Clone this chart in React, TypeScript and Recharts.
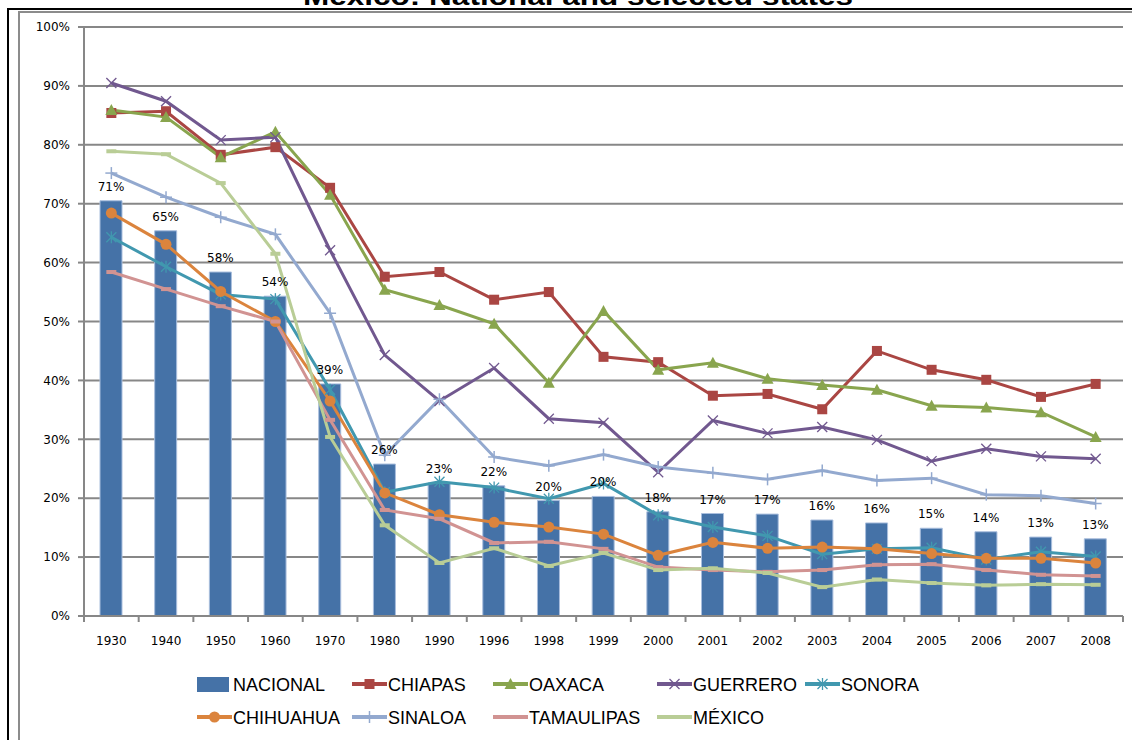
import React from 'react';
import { ComposedChart, Bar, Line, XAxis, YAxis, CartesianGrid, LabelList } from 'recharts';

const years = ['1930', '1940', '1950', '1960', '1970', '1980', '1990', '1996', '1998', '1999', '2000', '2001', '2002', '2003', '2004', '2005', '2006', '2007', '2008'];
const nacional = [70.5, 65.4, 58.4, 54.3, 39.4, 25.8, 22.6, 22.1, 19.6, 20.3, 17.7, 17.4, 17.3, 16.3, 15.8, 14.9, 14.3, 13.4, 13.1];
const chiapas = [85.4, 85.7, 78.3, 79.6, 72.7, 57.6, 58.4, 53.7, 55.0, 44.0, 43.1, 37.4, 37.7, 35.1, 45.0, 41.8, 40.1, 37.2, 39.4];
const oaxaca = [85.9, 84.7, 77.9, 82.2, 71.5, 55.4, 52.8, 49.6, 39.6, 51.8, 41.8, 43.0, 40.3, 39.2, 38.4, 35.7, 35.4, 34.6, 30.4];
const guerrero = [90.5, 87.4, 80.8, 81.3, 62.1, 44.3, 36.5, 42.1, 33.5, 32.8, 24.4, 33.2, 31.0, 32.1, 29.9, 26.3, 28.4, 27.1, 26.7];
const sonora = [64.3, 59.3, 54.6, 53.8, 38.4, 21.0, 22.8, 21.8, 19.9, 22.5, 17.1, 15.1, 13.6, 10.5, 11.4, 11.6, 9.6, 10.9, 10.1];
const chihuahua = [68.4, 63.1, 55.1, 50.0, 36.5, 20.9, 17.2, 15.9, 15.1, 13.9, 10.3, 12.5, 11.5, 11.7, 11.4, 10.6, 9.8, 9.8, 9.0];
const sinaloa = [75.2, 71.1, 67.7, 64.8, 51.4, 27.3, 36.8, 27.0, 25.5, 27.4, 25.3, 24.3, 23.2, 24.7, 23.0, 23.4, 20.6, 20.4, 19.1];
const tamaulipas = [58.4, 55.5, 52.6, 50.0, 33.3, 18.0, 16.5, 12.4, 12.6, 11.4, 8.3, 7.8, 7.5, 7.8, 8.7, 8.8, 7.8, 7.0, 6.8];
const mexico = [78.9, 78.4, 73.5, 61.5, 30.4, 15.4, 9.0, 11.5, 8.5, 10.7, 7.8, 8.1, 7.3, 4.9, 6.2, 5.6, 5.2, 5.4, 5.3];

const yTicks = [0, 10, 20, 30, 40, 50, 60, 70, 80, 90, 100];
const title = 'Mexico: National and selected states';

const BAR_COLOR = '#4572A7';
const GRID = '#878787';

type Kind = 'square' | 'triangle' | 'x' | 'asterisk' | 'circle' | 'plus' | 'dash';

const seriesDefs: { key: string; values: number[]; color: string; kind: Kind }[] = [
  { key: 'CHIAPAS', values: chiapas, color: '#AA4643', kind: 'square' },
  { key: 'OAXACA', values: oaxaca, color: '#89A54E', kind: 'triangle' },
  { key: 'GUERRERO', values: guerrero, color: '#71588F', kind: 'x' },
  { key: 'SONORA', values: sonora, color: '#4198AF', kind: 'asterisk' },
  { key: 'CHIHUAHUA', values: chihuahua, color: '#DB843D', kind: 'circle' },
  { key: 'SINALOA', values: sinaloa, color: '#93A9CF', kind: 'plus' },
  { key: 'TAMAULIPAS', values: tamaulipas, color: '#D19392', kind: 'dash' },
  { key: 'MÉXICO', values: mexico, color: '#B9CD96', kind: 'dash' },
];

const data = years.map((year, i) => {
  const row: Record<string, string | number> = { year, NACIONAL: nacional[i] };
  seriesDefs.forEach((s) => {
    row[s.key] = s.values[i];
  });
  return row;
});

function marker(kind: Kind, color: string, cx: number, cy: number, key?: string | number) {
  switch (kind) {
    case 'square':
      return <rect key={key} x={cx - 5} y={cy - 5} width={10} height={10} fill={color} />;
    case 'triangle':
      return <polygon key={key} points={`${cx},${cy - 6} ${cx - 6},${cy + 5} ${cx + 6},${cy + 5}`} fill={color} />;
    case 'x':
      return (
        <g key={key} stroke={color} strokeWidth={1.3}>
          <line x1={cx - 5} y1={cy - 5} x2={cx + 5} y2={cy + 5} />
          <line x1={cx - 5} y1={cy + 5} x2={cx + 5} y2={cy - 5} />
        </g>
      );
    case 'asterisk':
      return (
        <g key={key} stroke={color} strokeWidth={1.3}>
          <line x1={cx - 5} y1={cy - 5} x2={cx + 5} y2={cy + 5} />
          <line x1={cx - 5} y1={cy + 5} x2={cx + 5} y2={cy - 5} />
          <line x1={cx} y1={cy - 6} x2={cx} y2={cy + 6} />
        </g>
      );
    case 'circle':
      return <circle key={key} cx={cx} cy={cy} r={5.5} fill={color} />;
    case 'plus':
      return (
        <g key={key} stroke={color} strokeWidth={1.5}>
          <line x1={cx - 6} y1={cy} x2={cx + 6} y2={cy} />
          <line x1={cx} y1={cy - 6} x2={cx} y2={cy + 6} />
        </g>
      );
    case 'dash':
      return <rect key={key} x={cx - 5} y={cy - 2} width={10} height={4} fill={color} />;
  }
  return null;
}

const makeDot = (kind: Kind, color: string) => (props: any) => {
  const { cx, cy, index } = props;
  if (cx == null || cy == null) return <g key={`d-${index}`} />;
  return marker(kind, color, cx, cy, `d-${index}`);
};

const XTick = (props: any) => {
  const { x, y, payload, index, visibleTicksCount } = props;
  const half = payload && payload.offset ? payload.offset : 0;
  const axisY = y - 8;
  return (
    <g>
      <line x1={x - half} y1={axisY} x2={x - half} y2={axisY + 6} stroke={GRID} strokeWidth={2} />
      {index === visibleTicksCount - 1 ? (
        <line x1={x + half} y1={axisY} x2={x + half} y2={axisY + 6} stroke={GRID} strokeWidth={2} />
      ) : null}
      <text x={x} y={y + 21} textAnchor="middle" fontSize={12} fontFamily="DejaVu Sans, Verdana, sans-serif" fill="#000">
        {payload.value}
      </text>
    </g>
  );
};

const legendCols = [197, 352, 493, 657, 805];
const legendRows = [684, 717];
const legendItems: { name: string; kind: Kind | 'bar'; color: string; col: number; row: number }[] = [
  { name: 'NACIONAL', kind: 'bar', color: BAR_COLOR, col: 0, row: 0 },
  ...seriesDefs.map((s, i) => {
    const pos = i + 1;
    return { name: s.key, kind: s.kind, color: s.color, col: pos % 5, row: Math.floor(pos / 5) };
  }),
];

const Overlay = () => (
  <svg width={1132} height={740} style={{ position: 'absolute', left: 0, top: 0, pointerEvents: 'none' }}>
    <text x={578} y={5} textAnchor="middle" fontSize={26} fontWeight="bold" fontFamily="Liberation Sans, Arial, sans-serif" fill="#000" textLength={550} lengthAdjust="spacingAndGlyphs">
      {title}
    </text>
    <rect x={7} y={8} width={1125} height={2} fill="#000" />
    <rect x={7} y={8} width={2} height={732} fill="#000" />
    <rect x={18} y={11} width={1114} height={2} fill="#8c8c8c" />
    <rect x={18} y={11} width={2} height={729} fill="#8c8c8c" />
    {legendItems.map((it) => {
      const x = legendCols[it.col];
      const cy = legendRows[it.row];
      return (
        <g key={it.name}>
          {it.kind === 'bar' ? (
            <rect x={x} y={cy - 7} width={32} height={15} fill={it.color} />
          ) : (
            <g>
              <line x1={x} y1={cy} x2={x + 35} y2={cy} stroke={it.color} strokeWidth={4} />
              {marker(it.kind as Kind, it.color, x + 17.5, cy)}
            </g>
          )}
          <text x={x + 36} y={cy + 7} fontSize={18} fontFamily="Liberation Sans, Arial, sans-serif" fill="#000">
            {it.name}
          </text>
        </g>
      );
    })}
  </svg>
);

export default function App() {
  return (
    <div style={{ position: 'absolute', left: 0, top: 0, width: 1132, height: 740, background: '#fff' }}>
      <ComposedChart
        width={1132}
        height={740}
        data={data}
        margin={{ top: 27, right: 9, bottom: 0, left: 0 }}
        barCategoryGap={0}
      >
        <CartesianGrid vertical={false} stroke={GRID} strokeWidth={2} />
        <XAxis
          dataKey="year"
          axisLine={{ stroke: GRID, strokeWidth: 2 }}
          tickLine={false}
          tickSize={6}
          tickMargin={2}
          interval={0}
          tick={<XTick />}
          height={124}
        />
        <YAxis
          domain={[0, 100]}
          ticks={yTicks}
          width={84}
          tickFormatter={(v: number) => `${v}%`}
          axisLine={{ stroke: GRID, strokeWidth: 2 }}
          tickLine={{ stroke: GRID, strokeWidth: 2 }}
          tickSize={6}
          tickMargin={8}
          tick={{ fontSize: 12, fill: '#000', fontFamily: 'DejaVu Sans, Verdana, sans-serif' }}
          interval={0}
        />
        <Bar dataKey="NACIONAL" fill={BAR_COLOR} stroke="#A9BEDD" strokeWidth={1} barSize={22} isAnimationActive={false}>
          <LabelList
            dataKey="NACIONAL"
            position="top"
            offset={10}
            formatter={(v: any) => `${Math.round(Number(v))}%`}
            style={{ fontSize: 12, fill: '#000', fontFamily: 'DejaVu Sans, Verdana, sans-serif' }}
          />
        </Bar>
        {seriesDefs.map((s) => (
          <Line
            key={s.key}
            type="linear"
            dataKey={s.key}
            stroke={s.color}
            strokeWidth={3}
            dot={makeDot(s.kind, s.color)}
            activeDot={false}
            isAnimationActive={false}
          />
        ))}
      </ComposedChart>
      <Overlay />
    </div>
  );
}
